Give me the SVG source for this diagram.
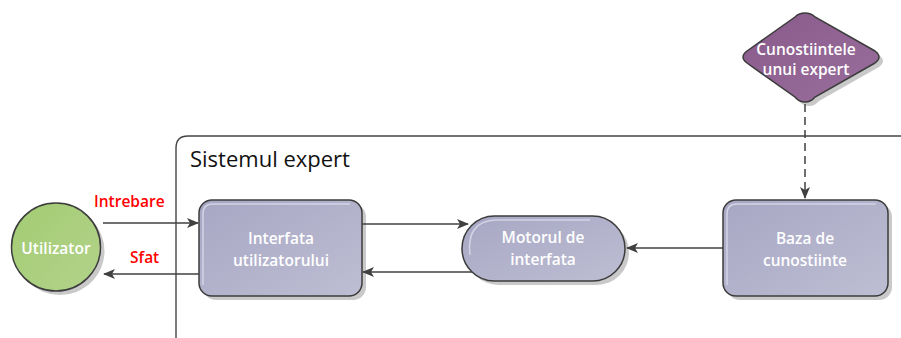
<svg xmlns="http://www.w3.org/2000/svg" width="901" height="338" viewBox="0 0 901 338">
  <defs>
    <linearGradient id="gBox" x1="0" y1="0" x2="1" y2="1">
      <stop offset="0" stop-color="#a7a7c4"/>
      <stop offset="1" stop-color="#bdbdd3"/>
    </linearGradient>
    <linearGradient id="gGreen" x1="0" y1="0" x2="1" y2="1">
      <stop offset="0" stop-color="#a3cb73"/>
      <stop offset="1" stop-color="#b2d38a"/>
    </linearGradient>
    <linearGradient id="gPurple" x1="0" y1="0" x2="1" y2="1">
      <stop offset="0" stop-color="#895a8b"/>
      <stop offset="1" stop-color="#9a6f9c"/>
    </linearGradient>
    <marker id="arrow" viewBox="0 0 12 10" refX="11" refY="5" markerWidth="12" markerHeight="10" markerUnits="userSpaceOnUse" orient="auto">
      <path d="M0,0 L12,5 L0,10 L3,5 Z" fill="#404040"/>
    </marker>
  </defs>
  <style>
    .shadow { fill: #c9c9c9; }
    .node { stroke: #3c3c3c; stroke-width: 1.5; }
    .box { fill: url(#gBox); }
    .hl { fill: none; stroke: #d4d4e6; stroke-width: 1.5; }
    .label { font-family: "Open Sans", "Noto Sans", sans-serif; font-weight: 600; font-size: 15.5px; fill: #ffffff; text-anchor: middle; }
    .edge { fill: none; stroke: #404040; stroke-width: 1.5; }
    .red { font-family: "Open Sans", "Noto Sans", sans-serif; font-weight: 600; font-size: 15.5px; fill: #ff0000; }
  </style>

  <!-- container: expert system boundary -->
  <g id="sistem">
    <path d="M176,345 L176,148 Q176,136 188,136 L920,136" fill="none" stroke="#444444" stroke-width="1.4"/>
    <text x="190" y="167" font-family="Open Sans, Noto Sans, sans-serif" font-size="22" fill="#111111">Sistemul expert</text>
  </g>

  <!-- user -->
  <g id="utilizator">
    <ellipse class="shadow" cx="60" cy="251" rx="44.5" ry="44"/>
    <ellipse class="node" cx="56" cy="247" rx="44.5" ry="44" fill="url(#gGreen)"/>
    <text class="label" x="56" y="254" font-size="17">Utilizator</text>
  </g>

  <!-- user interface -->
  <g id="interfata">
    <rect class="shadow" x="203" y="204" width="163" height="96" rx="13"/>
    <rect class="node box" x="199" y="200" width="163" height="96" rx="13"/>
    <path class="hl" d="M203,285 L203,214 Q203,204 213,204 L350,204"/>
    <text class="label" x="281" y="244">Interfata</text>
    <text class="label" x="281" y="266">utilizatorului</text>
  </g>

  <!-- inference engine -->
  <g id="motorul">
    <rect class="shadow" x="466" y="220" width="163" height="65" rx="32.5"/>
    <rect class="node box" x="462" y="216" width="163" height="65" rx="32.5"/>
    <path class="hl" d="M470,255 Q466,221 496,220 L590,220"/>
    <text class="label" x="543" y="243">Motorul de</text>
    <text class="label" x="543" y="265">interfata</text>
  </g>

  <!-- knowledge base -->
  <g id="baza">
    <rect class="shadow" x="727" y="204" width="165" height="96" rx="13"/>
    <rect class="node box" x="723" y="200" width="165" height="96" rx="13"/>
    <path class="hl" d="M727,285 L727,214 Q727,204 737,204 L876,204"/>
    <text class="label" x="805" y="244">Baza de</text>
    <text class="label" x="805" y="266">cunostiinte</text>
  </g>

  <!-- expert knowledge -->
  <g id="cunostiinte">
    <path class="shadow" d="M809,17 Q815,17 819,21 L879,55 Q887,61 879,67 L819,101 Q815,106 809,106 Q803,106 799,101 L751,67 Q743,61 751,55 L799,21 Q803,17 809,17 Z"/>
    <path class="node" fill="url(#gPurple)" d="M805,13 Q811,13 815,17 L875,51 Q883,57 875,63 L815,97 Q811,102 805,102 Q799,102 795,97 L747,63 Q739,57 747,51 L795,17 Q799,13 805,13 Z"/>
    <text class="label" x="806" y="55">Cunostiintele</text>
    <text class="label" x="806" y="75">unui expert</text>
  </g>

  <!-- connectors -->
  <g id="connectors">
    <line class="edge" x1="103" y1="223" x2="198" y2="223" marker-end="url(#arrow)"/>
    <line class="edge" x1="199" y1="274" x2="104" y2="274" marker-end="url(#arrow)"/>
    <line class="edge" x1="362" y1="224" x2="468" y2="224" marker-end="url(#arrow)"/>
    <line class="edge" x1="472" y1="272" x2="363" y2="272" marker-end="url(#arrow)"/>
    <line class="edge" x1="723" y1="248" x2="627" y2="248" marker-end="url(#arrow)"/>
    <line class="edge" x1="805" y1="104" x2="805" y2="198" stroke-dasharray="8,5" marker-end="url(#arrow)"/>
    <text class="red" x="94" y="207">Intrebare</text>
    <text class="red" x="130" y="263">Sfat</text>
  </g>
</svg>
